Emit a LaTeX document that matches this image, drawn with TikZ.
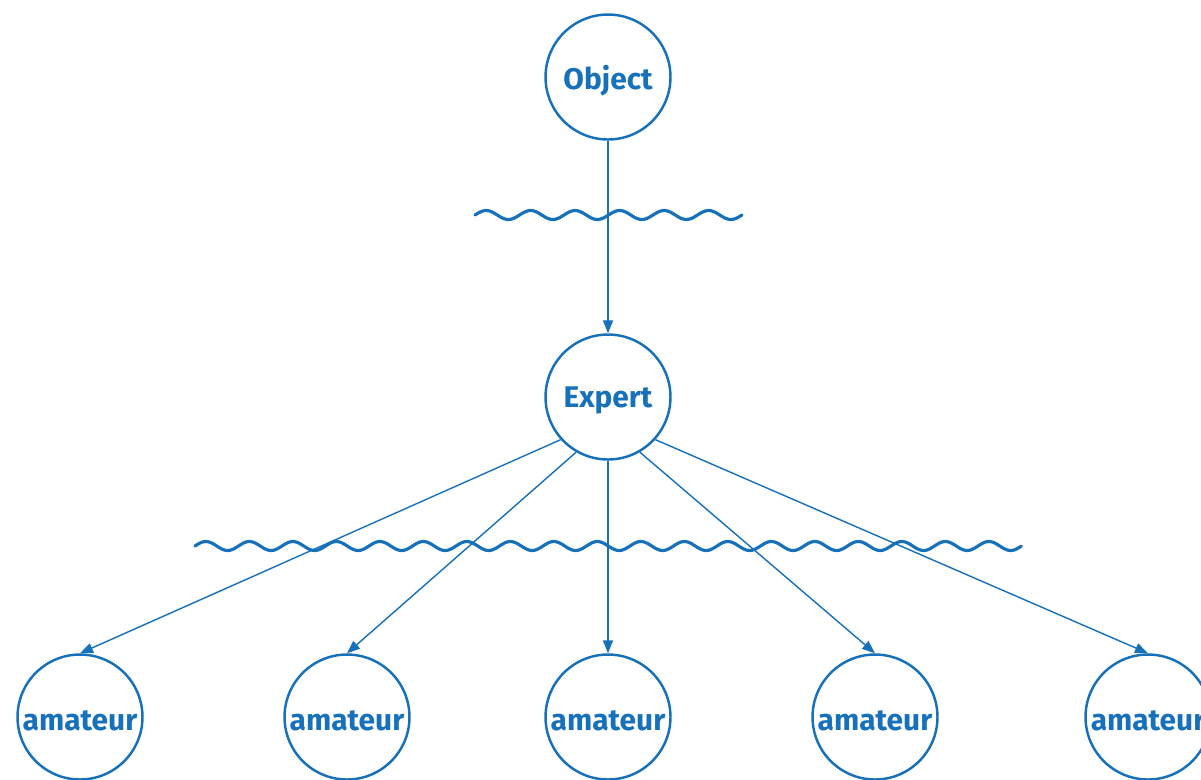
\documentclass[tikz,border=0pt]{standalone}
\usepackage{fontspec}
\setmainfont{Fira Sans}
\usepackage{xcolor}
\usetikzlibrary{arrows.meta}
\definecolor{linkblue}{RGB}{22,112,186}
\newcommand{\circlabel}[1]{\raisebox{-2pt}[\height][\depth]{#1}}

\begin{document}
\begin{tikzpicture}[x=0.02cm, y=-0.02cm, font=\bfseries\fontsize{17}{20}\selectfont, >={Triangle[length=0.26cm,width=0.2cm]}]
    \tikzset{
      person/.style={draw=linkblue, line width=1.4pt, circle, minimum size=2.5cm, inner sep=0pt, text=linkblue},
      arrow/.style={->, draw=linkblue, fill=linkblue, line width=0.8pt},
      wave/.style={draw=linkblue, line width=1.8pt, line cap=round}
    }
    \useasboundingbox (0,0) rectangle (1201,779);
    \clip (0,0) rectangle (1201,779);

    \node[person] (obj) at (608,77) {\circlabel{Object}};
    \node[person] (ex) at (608,397) {\circlabel{Expert}};
    \draw[arrow] (obj.south) -- (ex.north);

    % noise between the levels
    \draw[wave] plot[domain=0:6, samples=150] ({475+\x*44.5},{215-4.5*sin(\x*360)});
    \draw[wave] plot[domain=0:19, samples=400] ({195+\x*43.5},{546-4.5*sin(\x*360)});

    \foreach \i/\x/\a in {1/80/222, 2/347/240, 3/608/270, 4/875/300, 5/1148/318} {
      \node[person] (am\i) at (\x,717) {\circlabel{amateur}};
      \draw[arrow] (ex.\a) -- (am\i.north);
    }
  \end{tikzpicture}
\end{document}
